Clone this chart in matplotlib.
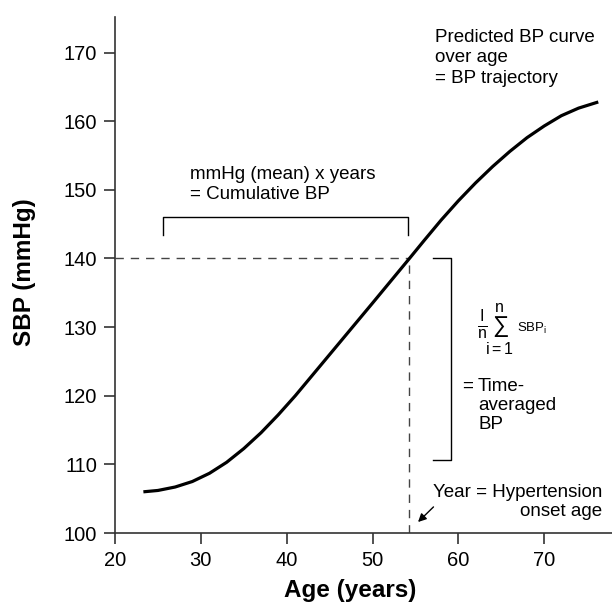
import matplotlib
matplotlib.use("Agg")
import matplotlib.pyplot as plt

plt.rcParams["font.family"] = ["Liberation Sans", "DejaVu Sans"]
plt.rcParams["mathtext.fontset"] = "custom"
plt.rcParams["mathtext.rm"] = "Liberation Sans"
plt.rcParams["mathtext.it"] = "Liberation Sans:italic"

# ---- values ----
AGE = [23.3, 25, 27, 29, 31, 33, 35, 37, 39, 41, 43, 45, 47, 50, 54.3,
       56, 58, 60, 62, 64, 66, 68, 70, 72, 74, 76.3]
SBP = [106.0, 106.2, 106.7, 107.5, 108.7, 110.3, 112.3, 114.6, 117.2, 120.0,
       123.0, 126.0, 129.0, 133.5, 140.0, 142.6, 145.6, 148.4, 151.0, 153.4,
       155.6, 157.6, 159.3, 160.8, 161.9, 162.8]

ONSET_AGE = 54.3
ONSET_SBP = 140
CUM_BRACKET = [25.6, 54.1, 143.4, 146.0]     # x0, x1, y_tick_end, y_bar
AVG_BRACKET = [57.0, 59.1, 110.6, 140.0]     # x_tick_end, x_bar, y0, y1

X_TICKS = [20, 30, 40, 50, 60, 70]
Y_TICKS = [100, 110, 120, 130, 140, 150, 160, 170]

FS = 13.5
AXIS_COLOR = "#333333"

fig = plt.figure(figsize=(6.12, 6.13), dpi=100)
ax = fig.add_axes([0.188, 0.1305, 0.812, 0.842])

ax.plot(AGE, SBP, color="black", lw=2.3, solid_capstyle="butt",
        solid_joinstyle="round", zorder=3)

# dashed guides
ax.plot([20, ONSET_AGE], [ONSET_SBP, ONSET_SBP], color="#444444", lw=1.0,
        dashes=(6, 5), zorder=2)
ax.plot([ONSET_AGE, ONSET_AGE], [100, ONSET_SBP], color="#444444", lw=1.0,
        dashes=(6, 5), zorder=2)

# cumulative BP bracket
x0, x1, yt, yb = CUM_BRACKET
ax.plot([x0, x0, x1, x1], [yt, yb, yb, yt], color="black", lw=1.0)

# time-averaged bracket
xt, xb, y0, y1 = AVG_BRACKET
ax.plot([xt, xb, xb, xt], [y1, y1, y0, y0], color="black", lw=1.0)

ax.text(28.7, 153.4, "mmHg (mean) x years\n= Cumulative BP", fontsize=FS,
        ha="left", va="top", linespacing=1.22)
ax.text(57.3, 173.4, "Predicted BP curve\nover age\n= BP trajectory", fontsize=FS,
        ha="left", va="top", linespacing=1.25)

# time-averaged formula
ax.text(62.2, 129.6,
        r"$\frac{\mathrm{I}}{\mathrm{n}}\!\sum_{\mathrm{i=1}}^{\mathrm{n}}$",
        fontsize=16.5, ha="left", va="center")
ax.text(66.8, 129.8, r"SBP$_{\mathrm{i}}$", fontsize=9.5, ha="left", va="center")

ax.text(60.4, 122.6, "=", fontsize=FS, ha="left", va="top")
ax.text(62.3, 122.6, "Time-\naveraged\nBP", fontsize=FS, ha="left", va="top",
        linespacing=1.15)
ax.text(76.8, 107.2, "Year = Hypertension\nonset age", fontsize=FS, ha="right",
        va="top", multialignment="right", linespacing=1.22)
ax.annotate("", xy=(55.3, 101.6), xytext=(57.1, 103.8),
            arrowprops=dict(arrowstyle="-|>", color="black", lw=1.0,
                            mutation_scale=12, shrinkA=0, shrinkB=0))

ax.set_xlim(20, 77.9)
ax.set_ylim(100, 175.2)
ax.set_xticks(X_TICKS)
ax.set_yticks(Y_TICKS)
for side in ("top", "right"):
    ax.spines[side].set_visible(False)
for side in ("left", "bottom"):
    ax.spines[side].set_color(AXIS_COLOR)
    ax.spines[side].set_linewidth(1.2)
ax.tick_params(direction="out", length=8, width=1.2, color=AXIS_COLOR,
               labelsize=14.5, pad=5)

fig.text(350 / 612, 1 - 590 / 613, "Age (years)", fontsize=17.5,
         fontweight="bold", ha="center", va="center")
fig.text(25 / 612, 1 - 272 / 613, "SBP (mmHg)", fontsize=17.5,
         fontweight="bold", ha="center", va="center", rotation=90)

fig.savefig("out.png", dpi=100, facecolor="white")
